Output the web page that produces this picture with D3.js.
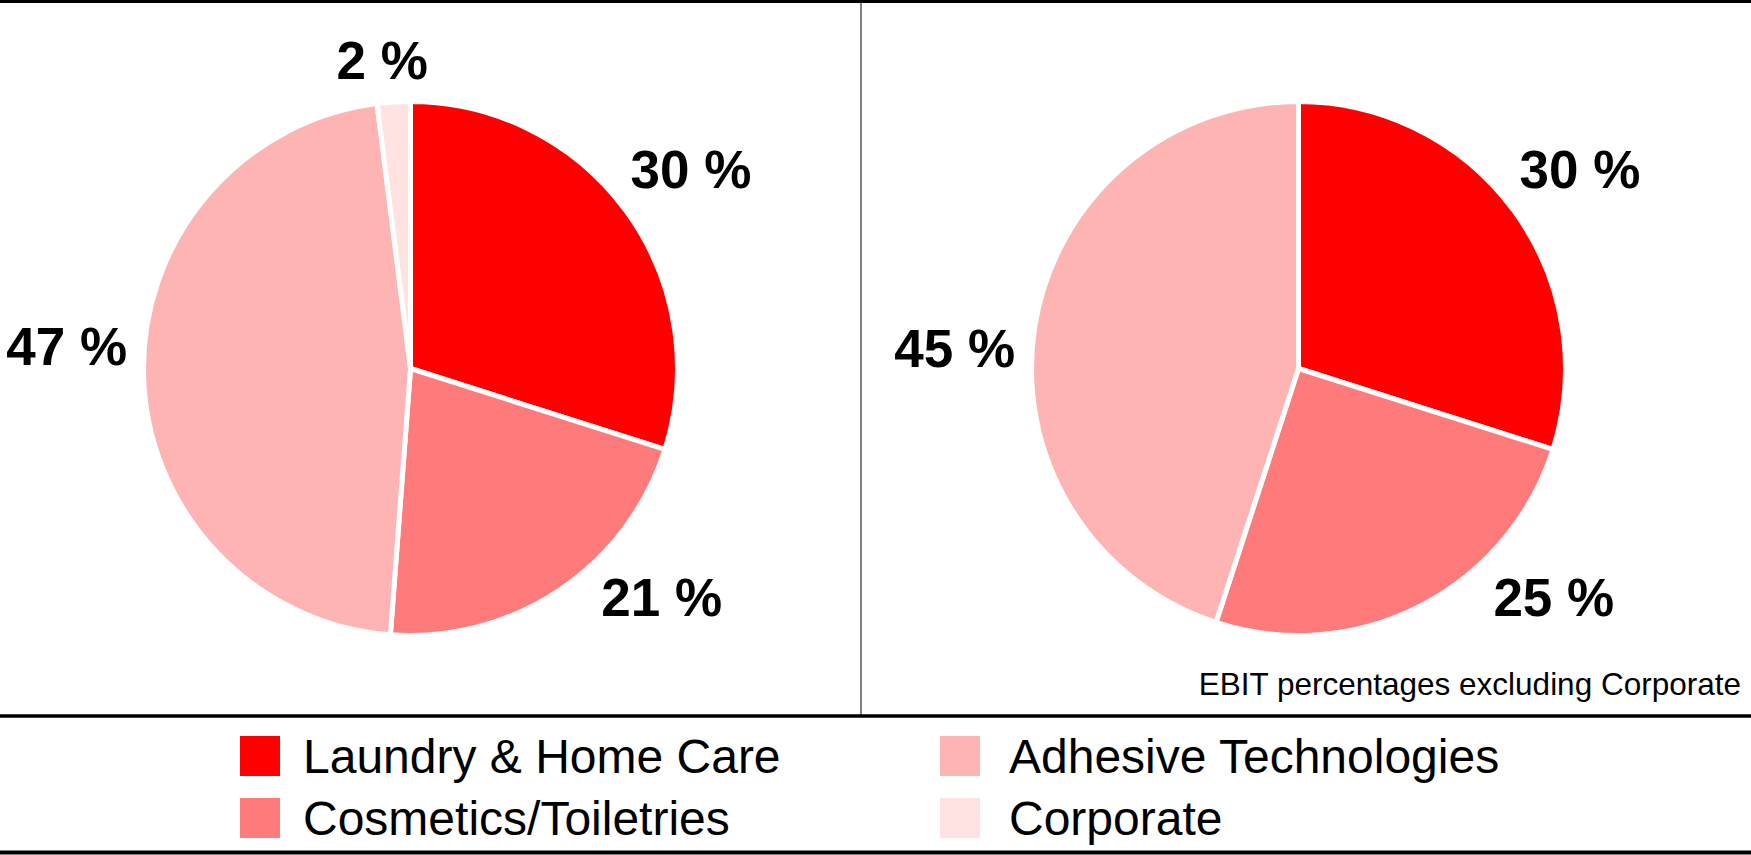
<!DOCTYPE html>
<html>
<head>
<meta charset="utf-8">
<script src="https://cdn.jsdelivr.net/npm/d3@7/dist/d3.min.js"></script>
<style>
  body { margin: 0; background: #fff; }
  svg { display: block; font-family: "Liberation Sans", Arial, sans-serif; }
</style>
</head>
<body>
<svg id="chart"></svg>
<script>
// Data (shares in %, labels shown rounded)
const segments = ["Laundry & Home Care", "Cosmetics/Toiletries", "Adhesive Technologies", "Corporate"];
const salesShare = [29.9, 21.3, 46.8, 2.0];   // left pie
const ebitShare = [29.9, 25.1, 45.0];          // right pie, excluding Corporate
const noteText = "EBIT percentages excluding Corporate";

const colors = ["#ff0000", "#ff7b7b", "#ffb4b4", "#ffe3e3"];

// Label nudges from the arc centroid (layout only)
const labelNudgeLeft = [[6, 1], [61, -53], [-4, -31], [-7, 31]];
const labelNudgeRight = [[7, 1], [100, -74], [-8, 33]];

const width = 1751;
const height = 855;
const radius = 267;
const labelRadius = 340;
const pieY = 368.5;
const dividerX = 861;
const chartBottom = 716;

const svg = d3.select("#chart").attr("width", width).attr("height", height);

const color = d3.scaleOrdinal().domain(segments).range(colors);

const pie = d3.pie().sort(null).value((d) => d.value);
const arc = d3.arc().innerRadius(0).outerRadius(radius);
const labelArc = d3.arc().innerRadius(labelRadius).outerRadius(labelRadius);

function drawPie(values, cx, nudges) {
  const data = values.map((v, i) => ({ name: segments[i], value: v }));
  const g = svg.append("g").attr("transform", `translate(${cx},${pieY})`);

  g.selectAll(".slice")
    .data(pie(data))
    .join("path")
    .attr("class", "slice")
    .attr("d", arc)
    .attr("fill", (d) => color(d.data.name))
    .attr("stroke", "#fff")
    .attr("stroke-width", 5)
    .attr("stroke-linejoin", "round");

  g.selectAll(".pieLabel")
    .data(pie(data))
    .join("text")
    .attr("class", "pieLabel")
    .attr("x", (d, i) => labelArc.centroid(d)[0] + nudges[i][0])
    .attr("y", (d, i) => labelArc.centroid(d)[1] + nudges[i][1])
    .attr("dy", "0.36em")
    .attr("text-anchor", "middle")
    .attr("font-size", 53)
    .attr("font-weight", "bold")
    .attr("fill", "#000")
    .text((d) => Math.round(d.data.value) + " %");
}

drawPie(salesShare, 410.5, labelNudgeLeft);
drawPie(ebitShare, 1298.5, labelNudgeRight);

// Frame lines
svg.append("line")
  .attr("x1", dividerX).attr("x2", dividerX)
  .attr("y1", 0).attr("y2", chartBottom)
  .attr("stroke", "#555").attr("stroke-width", 1.5);

svg.append("line")
  .attr("x1", 0).attr("x2", width)
  .attr("y1", 1.5).attr("y2", 1.5)
  .attr("stroke", "#000").attr("stroke-width", 3);

svg.append("line")
  .attr("x1", 0).attr("x2", width)
  .attr("y1", chartBottom).attr("y2", chartBottom)
  .attr("stroke", "#000").attr("stroke-width", 3.5);

svg.append("line")
  .attr("x1", 0).attr("x2", width)
  .attr("y1", 852.5).attr("y2", 852.5)
  .attr("stroke", "#000").attr("stroke-width", 4);

// Note
svg.append("text")
  .attr("x", 1741)
  .attr("y", 695)
  .attr("text-anchor", "end")
  .attr("font-size", 31.5)
  .attr("fill", "#000")
  .text(noteText);

// Legend: two columns, two rows
const legendCols = [240, 940];
const legendRows = [736, 798];
const sq = 40;

const legend = svg.selectAll(".legendItem")
  .data(segments)
  .join("g")
  .attr("class", "legendItem")
  .attr("transform", (d, i) =>
    `translate(${legendCols[Math.floor(i / 2)]},${legendRows[i % 2]})`);

legend.append("rect")
  .attr("width", sq)
  .attr("height", sq)
  .attr("fill", (d) => color(d));

legend.append("text")
  .attr("x", (d, i) => (i < 2 ? 63 : 69))
  .attr("y", sq / 2)
  .attr("dy", "0.36em")
  .attr("font-size", 48)
  .attr("fill", "#000")
  .text((d) => d);
</script>
</body>
</html>
